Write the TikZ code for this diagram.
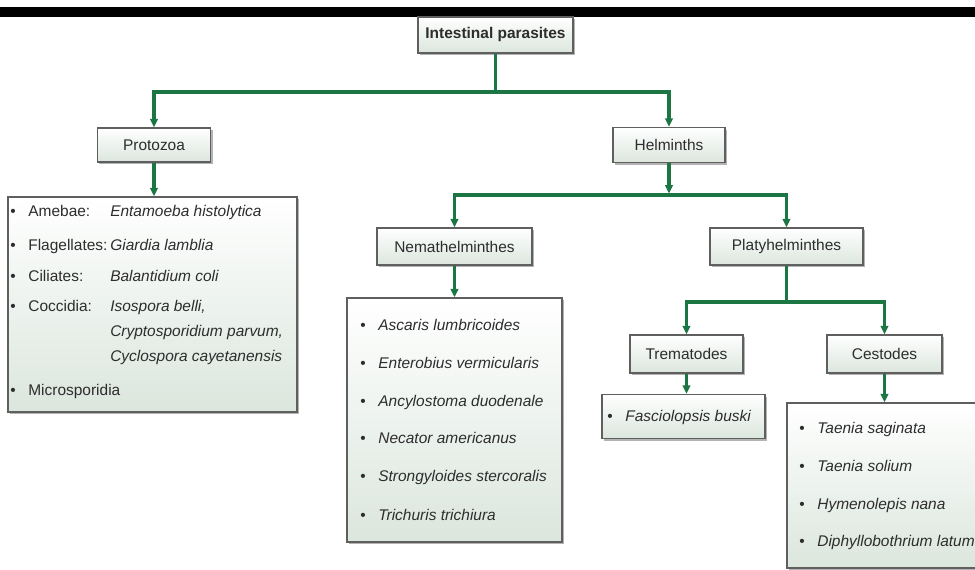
\documentclass[tikz,border=0pt]{standalone}
\usepackage{fontspec}
\setmainfont{Liberation Sans}
\usetikzlibrary{arrows.meta,shadows}
\definecolor{linkgreen}{RGB}{28,118,68}
\definecolor{boxfill}{RGB}{219,230,221}
\definecolor{boxline}{RGB}{95,95,95}
\definecolor{textgray}{RGB}{45,45,45}
\newcommand{\bul}{\textbullet\hspace{9pt}}
\tikzset{taxon/.style={draw=boxline,line width=1.1pt,top color=white,bottom color=boxfill,
 drop shadow={shadow xshift=.05cm,shadow yshift=-.06cm,fill=black!50,opacity=.6},
 inner sep=0pt,text=textgray,font=\fontsize{11}{13}\selectfont},
 link/.style={draw=linkgreen,line width=2.2pt},
 arr/.style={link,-{Triangle[length=6pt,width=5.5pt]}},
 item/.style={anchor=west,inner sep=0pt,text height=8pt,text depth=2.5pt,text=textgray,font=\fontsize{11}{13}\selectfont},
 species/.style={item,font=\fontsize{11}{13}\selectfont\itshape}}

\begin{document}
\begin{tikzpicture}[x=.025cm,y=-.025cm]
\useasboundingbox (0,0) rectangle (975,570);
\clip (0,0) rectangle (975,570);
\fill[black] (0,7) rectangle (975,17);
\node[taxon,minimum width=3.875cm,minimum height=.9cm,font=\fontsize{11}{13}\selectfont\bfseries] (ip) at (495.5,35) {Intestinal parasites};
\node[taxon,minimum width=2.825cm,minimum height=.85cm] (proto) at (154,145) {Protozoa};
\node[taxon,minimum width=2.8cm,minimum height=.875cm] (helm) at (669,145) {Helminths};
\node[taxon,minimum width=7.225cm,minimum height=5.375cm] (protolist) at (152.5,304.5) {};
\node[taxon,minimum width=3.875cm,minimum height=.925cm] (nema) at (454.5,246.5) {Nemathelminthes};
\node[taxon,minimum width=3.825cm,minimum height=.925cm] (platy) at (786.5,246.5) {Platyhelminthes};
\node[taxon,minimum width=5.375cm,minimum height=6.1cm] (nemalist) at (454.5,420) {};
\node[taxon,minimum width=2.825cm,minimum height=.95cm] (trem) at (686.5,354) {Trematodes};
\node[taxon,minimum width=2.875cm,minimum height=.95cm] (cest) at (884.5,354) {Cestodes};
\node[taxon,minimum width=4.075cm,minimum height=1.1cm] (fasc) at (683.5,416.5) {};
\node[taxon,minimum width=5.075cm,minimum height=4.125cm] (cestlist) at (888.5,485.5) {};

\foreach \y/\grp/\name [count=\i] in {213/Amebae:/Entamoeba histolytica,247/Flagellates:/Giardia lamblia,
 278/Ciliates:/Balantidium coli,308/Coccidia:/{Isospora belli,}}{
 \node[item] (pgrp\i) at (10,\y) {\bul\grp};
 \node[species] (pname\i) at (110,\y) {\name};
}
\node[species] (pname5) at (110,333) {Cryptosporidium parvum,};
\node[species] (pname6) at (110,358) {Cyclospora cayetanensis};
\node[item] (pgrp7) at (10,392) {\bul Microsporidia};

\foreach \y/\name [count=\i] in {327/Ascaris lumbricoides,365/Enterobius vermicularis,403/Ancylostoma duodenale,
 440/Necator americanus,478/Strongyloides stercoralis,517/Trichuris trichiura}
 \node[item] (nname\i) at (360,\y) {\bul\textit{\name}};
\node[item] (fname) at (607,418) {\bul\textit{Fasciolopsis buski}};
\foreach \y/\name [count=\i] in {430/Taenia saginata,468/Taenia solium,506/Hymenolepis nana,543/Diphyllobothrium latum}
 \node[item] (cname\i) at (799,\y) {\bul\textit{\name}};

\coordinate (j1) at (495.5,92);
\coordinate (j2) at (669,195);
\coordinate (j3) at (786.5,302);
\draw[link] (ip) -- (j1);
\draw[arr] (j1) -| (proto);
\draw[arr] (j1) -| (helm);
\draw[arr,shorten >=1.1pt] (helm) -- (j2);
\draw[link] (j2) -- (j2 -| nema) (j2) -- (j2 -| platy);
\draw[arr] (j2) -| (nema);
\draw[arr] (j2) -| (platy);
\draw[link] (platy) -- (j3);
\draw[arr] (j3) -| (trem);
\draw[arr] (j3) -| (cest);
\draw[arr] (proto) -- (proto |- protolist.north);
\draw[arr] (nema) -- (nema |- nemalist.north);
\draw[arr] (trem) -- (trem |- fasc.north);
\draw[arr] (cest) -- (cest |- cestlist.north);
\end{tikzpicture}
\end{document}
